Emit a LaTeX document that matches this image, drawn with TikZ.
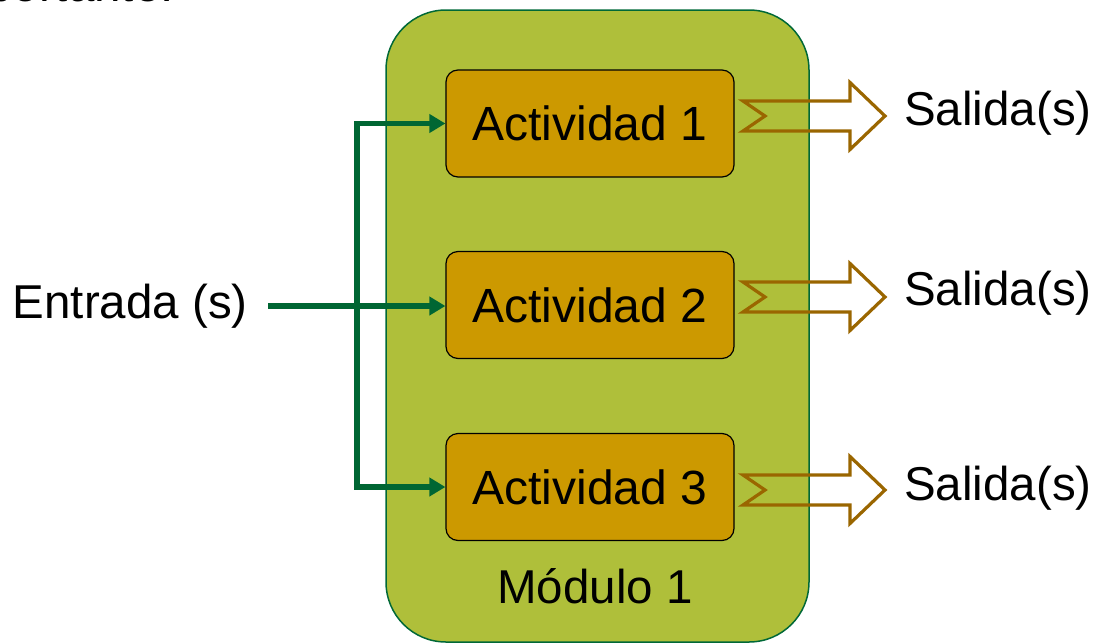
\documentclass[tikz,border=0pt]{standalone}
\usepackage{fontspec}
\setmainfont{Liberation Sans}
\usetikzlibrary{arrows.meta,calc}
\definecolor{modfill}{HTML}{AFBF3A}
\definecolor{modedge}{HTML}{006837}
\definecolor{actfill}{HTML}{CC9900}
\definecolor{flowgreen}{HTML}{006633}
\definecolor{outedge}{HTML}{9A6600}
\tikzset{
  module/.style={draw=modedge, line width=1.5pt, fill=modfill, rounded corners=60pt,
    minimum width=423pt, minimum height=632pt, inner sep=0pt},
  activity/.style={draw=black, line width=1.2pt, fill=actfill, rounded corners=12pt,
    minimum width=288pt, minimum height=107pt, inner sep=0pt,
    font=\fontsize{48}{58}\selectfont},
  label/.style={inner sep=0pt, font=\fontsize{47.5}{56}\selectfont},
  feed/.style={draw=flowgreen, line width=5.5pt, miter limit=10,
    -{Triangle[length=16pt,width=18pt]}},
  outarrow/.pic={
    \draw[outedge, line width=3.2pt, line join=miter]
      (0,-15) -- (107,-15) -- (107,-33.5) -- (142,0) -- (107,33.5)
      -- (107,15) -- (0,15) -- (22,0) -- cycle;
  }
}
\begin{document}
\begin{tikzpicture}[x=1pt, y=-1pt]
  \useasboundingbox (0,0) rectangle (1096,643);
  % line of text running off the top edge
  \node[label, anchor=base east] (lead) at (174,1) {importante.};

  % module container
  \node[module] (mod) at (597.5,326) {};
  \node[label, anchor=base] (modname) at (595,603) {Módulo 1};

  % activities
  \node[activity] (act1) at (590,123.5) {Actividad 1};
  \node[activity] (act2) at (590,305) {Actividad 2};
  \node[activity] (act3) at (590,487) {Actividad 3};

  % input and its distribution
  \node[label, anchor=east] (entrada) at (248,306) {Entrada (s)};
  \coordinate (split) at (357,306);
  \draw[feed] ([xshift=20pt]entrada.east) -- (act2.west |- entrada.east);
  \draw[feed] (split) |- (act1.west);
  \draw[feed] (split) |- (act3.west);

  % outputs
  \pic at (743,116) {outarrow};
  \pic at (743,297) {outarrow};
  \pic at (743,490) {outarrow};
  \node[label, anchor=west] (out1) at (904,113) {Salida(s)};
  \node[label, anchor=west] (out2) at (904,293) {Salida(s)};
  \node[label, anchor=west] (out3) at (904,488) {Salida(s)};
\end{tikzpicture}
\end{document}
